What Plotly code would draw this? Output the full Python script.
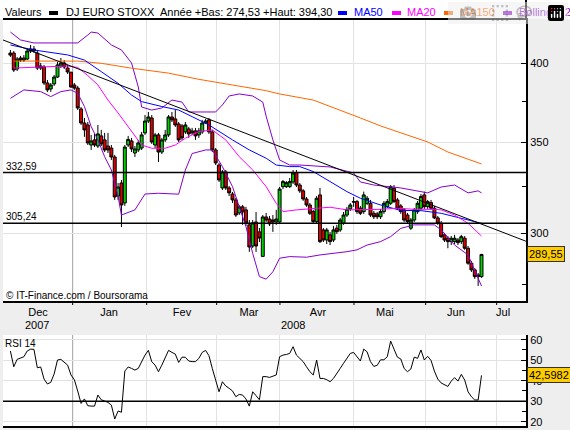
import math
import plotly.graph_objects as go

# trading days (index 0 = first session shown, early Dec 2007)
open_ = [407.0, 407.0, 396.2, 403.6, 402.2, 402.9, 408.4, 409.8, 407.0, 398.2,
         397.5, 386.9, 383.0, 386.3, 390.8, 398.2, 400.2, 396.8, 394.0, 385.6,
         383.6, 370.3, 361.6, 360.4, 348.4, 351.4, 347.8, 353.8, 351.4, 347.8,
         346.6, 341.4, 319.6, 326.7, 315.9, 348.4, 350.8, 343.7, 345.5, 346.6,
         355.6, 362.8, 364.7, 348.4, 354.4, 344.3, 351.4, 354.4, 365.3, 364.1,
         361.0, 359.8, 356.2, 358.0, 355.6, 356.8, 354.4, 356.2, 361.6, 363.5,
         356.2, 345.5, 336.8, 324.0, 332.9, 324.0, 320.7, 317.5, 310.6, 313.8,
         312.2, 304.4, 293.7, 305.9, 300.8, 288.6, 308.5, 307.4, 306.9, 305.9,
         305.9, 324.7, 324.7, 324.7, 327.3, 332.5, 325.6, 322.4, 318.0, 314.8,
         311.3, 306.1, 320.2, 301.8, 296.7, 299.3, 296.7, 302.7, 301.8, 305.2,
         309.5, 312.7, 316.6, 316.6, 313.1, 311.3, 315.7, 315.7, 310.4, 310.1,
         308.6, 311.3, 313.9, 315.7, 323.8, 317.5, 314.3, 312.2, 309.5, 302.7,
         306.9, 311.3, 313.1, 320.2, 313.9, 316.1, 313.1, 308.0, 305.2, 299.3,
         297.6, 295.9, 295.9, 296.7, 295.9, 297.6, 292.6, 285.3, 282.1, 279.7,
         278.9]
high = [409.1, 408.4, 404.3, 405.0, 405.6, 410.5, 412.6, 411.9, 409.1, 400.2,
        398.9, 388.9, 386.9, 392.2, 400.9, 403.6, 402.2, 398.9, 394.3, 386.9,
        385.0, 371.5, 364.7, 362.2, 354.4, 355.0, 360.4, 357.4, 355.6, 355.6,
        348.4, 342.6, 326.7, 328.4, 348.4, 353.8, 352.6, 347.8, 351.4, 356.2,
        366.5, 368.4, 366.5, 355.6, 355.6, 352.6, 357.4, 366.5, 368.4, 369.6,
        362.2, 361.0, 362.2, 359.2, 358.6, 358.6, 358.6, 363.5, 364.1, 364.7,
        357.4, 346.6, 338.0, 334.0, 334.0, 325.1, 321.8, 318.6, 314.8, 314.8,
        313.8, 306.9, 306.9, 311.1, 302.8, 309.5, 310.6, 309.0, 309.5, 312.2,
        324.5, 328.4, 327.8, 329.5, 334.0, 334.0, 326.7, 323.4, 319.1, 315.9,
        312.2, 319.6, 324.0, 302.8, 302.8, 300.8, 303.8, 304.4, 308.0, 311.1,
        313.8, 315.9, 319.1, 317.5, 314.3, 322.0, 319.6, 317.5, 311.6, 311.1,
        312.7, 316.9, 318.0, 325.6, 325.6, 318.6, 315.3, 313.2, 310.6, 308.0,
        313.2, 316.9, 320.7, 322.0, 317.5, 317.5, 314.3, 309.0, 306.4, 300.3,
        298.7, 298.7, 299.3, 297.7, 299.3, 298.7, 293.7, 286.4, 283.0, 280.6,
        289.8]
low = [404.3, 394.2, 394.8, 400.9, 400.9, 402.2, 407.0, 407.0, 395.5, 395.5,
       385.6, 381.1, 381.1, 385.0, 390.2, 396.8, 396.2, 392.8, 383.6, 382.4,
       369.6, 360.4, 353.2, 348.4, 345.5, 347.2, 346.6, 347.8, 344.3, 343.7,
       339.7, 317.5, 317.5, 303.3, 314.3, 347.2, 344.3, 341.4, 344.3, 345.5,
       354.4, 361.6, 349.0, 346.6, 338.5, 343.1, 350.2, 353.2, 362.2, 359.2,
       350.2, 351.4, 355.0, 352.6, 354.4, 351.4, 352.6, 355.0, 361.0, 355.0,
       344.3, 336.8, 327.3, 322.9, 322.9, 319.6, 315.9, 308.5, 309.5, 304.4,
       303.8, 290.8, 292.7, 290.8, 295.7, 288.3, 305.9, 303.8, 300.8, 304.4,
       304.9, 323.4, 324.0, 324.0, 326.2, 324.5, 321.3, 317.0, 313.8, 309.5,
       304.9, 304.9, 295.2, 295.7, 294.7, 294.2, 295.7, 299.8, 300.8, 304.4,
       308.5, 311.6, 313.8, 310.1, 309.5, 310.1, 314.8, 308.5, 307.4, 307.4,
       307.4, 310.1, 313.2, 314.8, 315.9, 312.2, 310.1, 305.9, 304.9, 301.8,
       305.9, 310.1, 312.2, 312.7, 312.7, 312.2, 307.4, 304.4, 297.7, 295.7,
       292.6, 294.2, 294.7, 294.2, 294.7, 291.8, 284.5, 281.1, 277.8, 274.53,
       278.3]
close = [405.6, 395.5, 402.9, 402.2, 403.6, 408.4, 409.8, 408.4, 396.8, 396.8,
         386.9, 382.4, 385.6, 390.8, 398.9, 400.2, 397.5, 394.2, 384.3, 383.6,
         370.9, 361.6, 357.4, 349.6, 350.8, 348.4, 355.0, 349.0, 345.5, 345.5,
         341.4, 319.1, 324.5, 314.8, 347.2, 351.7, 346.1, 346.1, 349.6, 354.4,
         362.8, 365.3, 350.2, 354.4, 344.3, 351.4, 354.4, 365.3, 363.5, 360.4,
         351.4, 352.6, 360.4, 355.0, 356.8, 353.8, 356.8, 361.6, 362.8, 356.2,
         345.5, 338.0, 328.4, 332.9, 324.0, 321.3, 317.5, 309.5, 313.8, 311.1,
         305.4, 293.2, 305.4, 293.7, 297.7, 308.5, 306.9, 304.9, 305.9, 307.4,
         323.4, 327.5, 326.9, 327.5, 332.3, 325.6, 322.4, 318.0, 314.8, 310.4,
         306.1, 318.4, 295.9, 296.7, 301.8, 295.9, 301.8, 300.9, 306.9, 309.5,
         312.5, 314.8, 316.4, 311.3, 310.4, 320.2, 318.4, 309.5, 308.6, 308.6,
         311.3, 315.7, 316.6, 324.7, 316.6, 313.1, 311.3, 306.9, 306.1, 306.9,
         312.2, 315.7, 319.3, 313.9, 316.6, 313.1, 308.0, 305.2, 298.4, 296.7,
         295.9, 297.6, 297.6, 295.4, 298.4, 292.6, 285.3, 282.1, 278.9, 278.9,
         289.55]

rsi = [54.5, 46.8, 50.4, 51.1, 51.7, 54.5, 55.4, 55.3, 46.3, 46.7,
       40.8, 38.4, 39.2, 43.3, 50.1, 50.4, 48.8, 47.6, 42.8, 40.5,
       35.0, 28.9, 31.1, 27.8, 27.6, 27.6, 33.0, 30.7, 30.1, 29.4,
       28.1, 21.3, 25.2, 24.6, 44.7, 46.7, 46.0, 45.2, 46.0, 49.3,
       52.5, 54.8, 49.3, 47.6, 44.4, 47.6, 51.2, 54.8, 53.8, 53.0,
       48.9, 51.5, 51.4, 49.6, 49.3, 49.3, 50.9, 53.8, 54.8, 52.2,
       46.0, 40.3, 34.6, 39.5, 37.4, 36.3, 35.0, 32.2, 33.3, 33.0,
       31.1, 27.6, 34.6, 32.7, 30.7, 42.0, 42.0, 41.6, 42.4, 42.8,
       51.7, 52.5, 52.8, 53.3, 56.6, 52.5, 50.9, 49.3, 46.8, 44.4,
       42.8, 50.1, 41.1, 41.1, 40.5, 39.5, 41.1, 43.3, 46.0, 48.5,
       50.9, 53.3, 53.8, 51.9, 49.6, 55.4, 54.1, 49.3, 47.0, 47.5,
       50.2, 50.2, 51.7, 59.3, 55.4, 51.5, 50.6, 46.0, 44.4, 45.7,
       51.5, 50.9, 55.0, 50.1, 51.9, 49.9, 44.7, 40.8, 38.9, 38.2,
       37.2, 39.8, 41.5, 39.8, 43.1, 40.3, 34.6, 32.2, 30.6, 30.6,
       42.5982]

day = list(range(len(close)))

# indicator lines at sample sessions
ma150_day = [1, 20, 27, 36, 47, 56, 66, 76, 80, 90, 104, 110, 124, 130, 140]
ma150 = [401.5, 401.5, 400.0, 396.7, 393.4, 389.3, 385.6, 381.9, 379.8, 375.9,
         364.7, 359.8, 350.2, 344.3, 337.4]

ma50_day = [0, 7, 17, 22, 27, 32, 36, 39, 45, 50, 54, 59, 66, 71, 76, 79, 83, 86,
            90, 95, 100, 104, 110, 116, 122, 128, 134, 140]
ma50 = [412.6, 409.1, 405.7, 402.2, 394.4, 386.7, 379.1, 374.9, 371.8, 369.6,
        365.5, 360.4, 351.4, 345.5, 340.7, 336.8, 335.9, 335.9, 333.1, 327.5,
        322.0, 318.4, 314.8, 311.9, 311.8, 310.4, 307.8, 305.2]

ma20_day = [1, 7, 12, 17, 20, 23, 26, 29, 32, 35, 37, 39, 42, 46, 49, 52, 56, 60,
            64, 68, 72, 76, 79, 81, 85, 90, 95, 100, 105, 110, 115, 120, 126, 128,
            132, 136, 140]
ma20 = [396.8, 397.5, 397.8, 398.2, 397.2, 391.8, 385.6, 375.9, 367.8, 359.2,
        353.8, 348.4, 346.5, 346.5, 348.4, 352.4, 356.4, 357.4, 351.4, 341.6,
        334.0, 324.7, 315.7, 311.3, 312.2, 313.1, 313.6, 312.2, 312.2, 312.5,
        313.1, 312.5, 312.5, 312.2, 309.5, 305.2, 298.7]

boll_up_day = [0, 3, 7, 20, 23, 24, 26, 30, 33, 36, 38, 39, 42, 45, 48, 51, 53,
               61, 63, 65, 68, 72, 75, 76, 78, 80, 83, 86, 95, 102, 104, 108, 116,
               124, 128, 132, 136, 139, 140]
boll_up = [421.7, 416.1, 414.0, 414.0, 419.6, 421.7, 421.0, 412.6, 409.1, 400.2,
           384.3, 371.5, 369.6, 370.9, 375.9, 374.6, 368.4, 368.4, 372.8, 378.5,
           379.8, 378.5, 374.6, 365.8, 351.4, 339.7, 336.8, 336.8, 335.7, 332.3,
           327.3, 325.6, 324.0, 321.3, 324.5, 325.6, 321.3, 322.4, 321.3]

boll_lo_day = [0, 4, 9, 12, 15, 18, 20, 22, 24, 26, 28, 30, 32, 33, 37, 40, 44,
               50, 52, 54, 58, 60, 63, 66, 68, 70, 72, 74, 76, 78, 80, 83, 88, 92,
               100, 103, 106, 110, 113, 116, 120, 126, 128, 132, 136, 138, 140]
boll_lo = [377.0, 382.4, 381.3, 378.1, 381.3, 382.4, 380.2, 371.8, 359.4, 351.4,
           341.6, 334.0, 319.3, 309.5, 312.2, 320.7, 321.1, 320.6, 334.0, 343.4,
           345.5, 345.5, 335.9, 324.7, 313.9, 303.5, 290.1, 278.9, 277.7, 281.2,
           287.7, 288.5, 288.2, 289.3, 290.9, 291.8, 294.2, 295.9, 298.4, 302.6,
           304.4, 304.4, 301.8, 294.2, 289.3, 282.1, 274.5]

trend_day = [-2.2, 153.2]
trend = [416.1, 296.1]
levels = [332.59, 305.24]

month_start = [18.5, 40.5, 61.3, 80.1, 102.1, 123.4, 144.5]
month_mid = [8.2, 29.3, 51.0, 70.9, 91.4, 111.3, 132.4, 146.4]
month_lbl = ["Dec", "Jan", "Fev", "Mar", "Avr", "Mai", "Jun", "Jul"]

# page geometry (pixels)
W, H = 570, 430
ML, MR, MT, MB = 3, 44, 20, 4
PW, PH = W - ML - MR, H - MT - MB
XR = [-2.2, 153.22]

BLUE, MAG, ORANGE, PURPLE = "#0000ff", "#ff00ff", "#ff6600", "#8800cc"
FONT = "Liberation Sans, Arial, sans-serif"
GRID = "#e2e2e2"


def fx(px):
    return (px - ML) / PW


def fy(py):
    return (H - MB - py) / PH


fig = go.Figure()

fig.add_trace(go.Candlestick(
    x=day, open=open_, high=high, low=low, close=close,
    increasing=dict(fillcolor="#00cc00", line=dict(color="black", width=1)),
    decreasing=dict(fillcolor="#dd0000", line=dict(color="black", width=1)),
    whiskerwidth=0, xaxis="x", yaxis="y",
))
for xs, ys, col in [(boll_up_day, boll_up, PURPLE), (boll_lo_day, boll_lo, PURPLE),
                    (ma150_day, ma150, ORANGE), (ma50_day, ma50, BLUE),
                    (ma20_day, ma20, MAG), (trend_day, trend, "black")]:
    fig.add_trace(go.Scatter(x=xs, y=ys, mode="lines", xaxis="x", yaxis="y",
                             line=dict(color=col, width=1)))
for lv in levels:
    fig.add_trace(go.Scatter(x=XR, y=[lv, lv], mode="lines", xaxis="x", yaxis="y",
                             line=dict(color="black", width=1.5)))

fig.add_trace(go.Scatter(x=XR, y=[30, 30], mode="lines", xaxis="x2", yaxis="y2",
                         line=dict(color="black", width=1.5)))
fig.add_trace(go.Scatter(x=day, y=rsi, mode="lines", xaxis="x2", yaxis="y2",
                         line=dict(color="black", width=1)))

main_bottom = fy(301)
rsi_top = fy(335)

# the year boundary gets its own darker line (drawn as a shape)
xcommon = dict(
    range=XR, showgrid=False, zeroline=False, fixedrange=True,
    minor=dict(tickmode="array", tickvals=month_start[1:], showgrid=True,
               gridcolor=GRID, gridwidth=1),
)

fig.update_layout(
    width=W, height=H,
    margin=dict(l=ML, r=MR, t=MT, b=MB),
    paper_bgcolor="#eeeeee", plot_bgcolor="white",
    showlegend=False, boxgap=0.12, boxgroupgap=0,
    font=dict(family=FONT, size=11, color="black"),
    xaxis=dict(
        xcommon, domain=[0, 1], anchor="y",
        rangeslider=dict(visible=False),
        tickmode="array", tickvals=month_mid, ticktext=month_lbl, ticks="",
        showline=True, linecolor="black", linewidth=2, mirror=True,
        tickfont=dict(size=11),
    ),
    yaxis=dict(
        type="log", domain=[main_bottom, 1], anchor="x", side="right",
        range=[2.42754, 2.63385], fixedrange=True,
        tickmode="array", tickvals=[300, 350, 400], ticktext=["300", "350", "400"],
        ticks="inside", ticklen=5, tickcolor="black",
        showgrid=True, gridcolor=GRID, zeroline=False,
        showline=True, linecolor="black", linewidth=2,
        minor=dict(tickmode="array", tickvals=[275, 325, 375], ticks="inside",
                   ticklen=4, tickcolor="black", showgrid=False),
        tickfont=dict(size=11),
    ),
    xaxis2=dict(
        xcommon, domain=[0, 1], anchor="y2", showticklabels=False, ticks="",
        showline=True, linecolor="black", linewidth=2,
    ),
    yaxis2=dict(
        domain=[0, rsi_top], anchor="x2", side="right", range=[17.9, 62.3],
        fixedrange=True,
        tickmode="array", tickvals=[20, 30, 40, 50, 60],
        ticks="inside", ticklen=5, tickcolor="black",
        showgrid=True, gridcolor=GRID, zeroline=False,
        showline=True, linecolor="black", linewidth=2,
        minor=dict(tickmode="array", tickvals=[25, 35, 45, 55], ticks="inside",
                   ticklen=4, tickcolor="black", showgrid=False),
        tickfont=dict(size=11),
    ),
)

shapes = [
    # white header band
    dict(type="rect", xref="paper", yref="paper", x0=fx(0), x1=fx(W),
         y0=fy(19), y1=fy(0), fillcolor="white", line=dict(width=0), layer="below"),
    # right axis runs up through the header
    dict(type="line", xref="paper", yref="paper", x0=1, x1=1, y0=1, y1=fy(0),
         line=dict(color="black", width=2)),
]
# year boundary: darker grid line in both panels
for lo, hi in [(main_bottom, 1), (0, rsi_top)]:
    shapes.append(dict(type="line", xref="x", yref="paper", x0=month_start[0],
                       x1=month_start[0], y0=lo, y1=hi,
                       line=dict(color="#a0a0a0", width=1), layer="below"))
# x tick marks under the main panel
for m in month_start:
    shapes.append(dict(type="line", xref="x", yref="paper", x0=m, x1=m,
                       y0=main_bottom, y1=fy(305), line=dict(color="black", width=1)))

ann = []


def text(s, px, py, color="black", anchor="left", size=10):
    ann.append(dict(text=s, x=fx(px), y=fy(py), xref="paper", yref="paper",
                    xanchor=anchor, yanchor="middle", showarrow=False,
                    font=dict(size=size, color=color)))


# header legend
for s, px, col, sq in [("Valeurs", 3, "black", None),
                       ("DJ EURO STOXX", 64, "black", 49),
                       ("Année +Bas: 274,53 +Haut: 394,30", 158, "black", None),
                       ("MA50", 352, BLUE, 338), ("MA20", 405, MAG, 392),
                       ("MA150", 458, ORANGE, 444), ("Bollinger 2", 517, PURPLE, 503)]:
    text(s, px, 12, col, size=11)
    if sq is not None:
        shapes.append(dict(type="rect", xref="paper", yref="paper",
                           x0=fx(sq), x1=fx(sq + 9), y0=fy(15), y1=fy(11),
                           fillcolor=col, line=dict(width=0)))

text("332,59", 4, 166)
text("305,24", 4, 216)
text("© IT-Finance.com / Boursorama", 4, 295)
text("RSI 14", 3, 343)
text("2007", 37, 325, anchor="center", size=11)
text("2008", 293, 325, anchor="center", size=11)

# last value boxes
ann.append(dict(text="289,55", x=fx(527), xref="paper", y=math.log10(close[-1]),
                yref="y", xanchor="left", yanchor="middle", showarrow=False,
                bgcolor="#ffcc00", bordercolor="#333333", borderwidth=1, borderpad=1,
                font=dict(size=11, color="black")))
ann.append(dict(text="42,5982", x=fx(527), xref="paper", y=rsi[-1], yref="y2",
                xanchor="left", yanchor="middle", showarrow=False,
                bgcolor="#ffcc00", bordercolor="#333333", borderwidth=1, borderpad=1,
                font=dict(size=11, color="black")))

fig.update_layout(shapes=shapes, annotations=ann)

fig.write_html("out.html", post_script="document.body.style.margin='0';")
